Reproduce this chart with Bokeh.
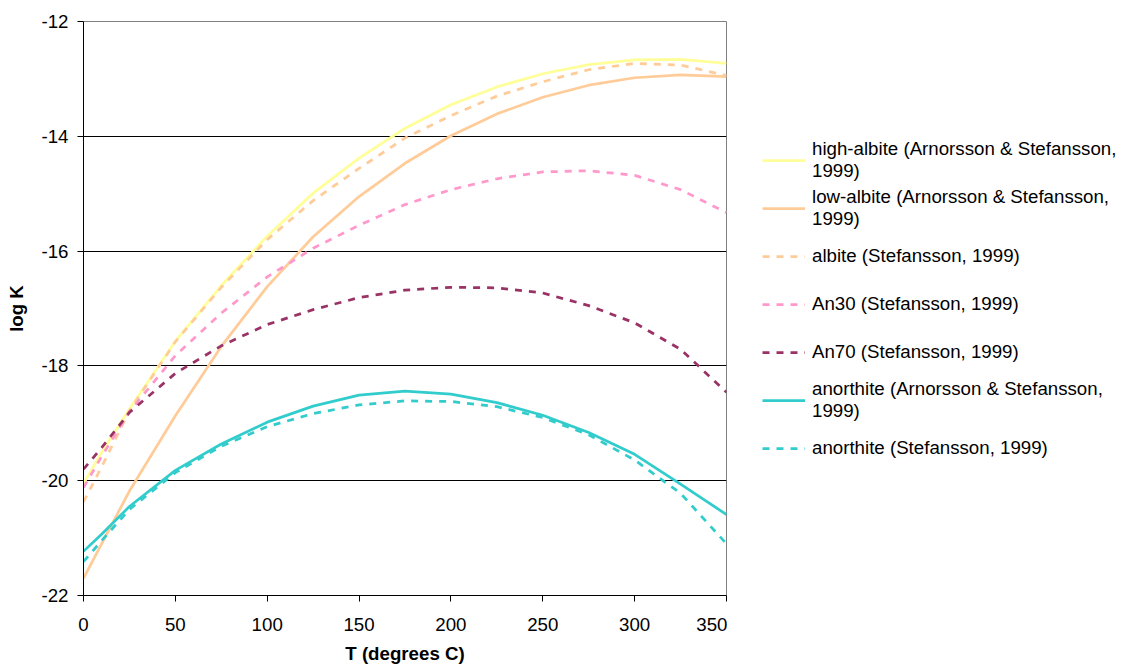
from bokeh.plotting import figure
from bokeh.layouts import row
from bokeh.models import Legend, LegendItem, FixedTicker, PrintfTickFormatter
from bokeh.embed import file_html
from bokeh.resources import INLINE

# Temperature (degrees C)
T = [0, 10, 25, 50, 75, 100, 125, 150, 175, 200, 225, 250, 275, 300, 325, 350]

# log K series
high_albite_AS = [-20.05, -19.50, -18.75, -17.57, -16.60, -15.74, -14.99, -14.38,
                  -13.86, -13.45, -13.14, -12.91, -12.75, -12.67, -12.66, -12.73]
low_albite_AS = [-21.70, -21.09, -20.18, -18.87, -17.66, -16.62, -15.75, -15.05,
                 -14.47, -13.99, -13.61, -13.32, -13.11, -12.98, -12.93, -12.96]
albite_S = [-20.37, -19.75, -18.78, -17.58, -16.63, -15.80, -15.12, -14.56,
            -14.03, -13.64, -13.30, -13.05, -12.84, -12.73, -12.76, -12.94]
An30_S = [-20.12, -19.57, -18.80, -17.82, -17.08, -16.45, -15.95, -15.55,
          -15.19, -14.93, -14.74, -14.62, -14.60, -14.68, -14.93, -15.33]
An70_S = [-19.80, -19.42, -18.81, -18.13, -17.65, -17.28, -17.02, -16.81,
          -16.68, -16.63, -16.64, -16.73, -16.95, -17.25, -17.71, -18.46]
anorthite_AS = [-21.23, -20.93, -20.45, -19.82, -19.36, -18.98, -18.70, -18.51,
                -18.44, -18.49, -18.64, -18.86, -19.16, -19.54, -20.06, -20.59]
anorthite_S = [-21.41, -21.04, -20.50, -19.86, -19.40, -19.06, -18.83, -18.68,
               -18.61, -18.62, -18.71, -18.90, -19.20, -19.64, -20.22, -21.10]

x_ticks = [0, 50, 100, 150, 200, 250, 300, 350]
y_ticks = [-22, -20, -18, -16, -14, -12]
grid_ticks = [-20, -18, -16, -14]

labels = [
    "high-albite (Arnorsson & Stefansson,\n1999)",
    "low-albite (Arnorsson & Stefansson,\n1999)",
    "albite (Stefansson, 1999)",
    "An30 (Stefansson, 1999)",
    "An70 (Stefansson, 1999)",
    "anorthite (Arnorsson & Stefansson,\n1999)",
    "anorthite (Stefansson, 1999)",
]
values = [high_albite_AS, low_albite_AS, albite_S, An30_S, An70_S, anorthite_AS, anorthite_S]
colors = ["#FFFF99", "#FFCC99", "#FFCC99", "#FF99CC", "#993366", "#33CCCC", "#33CCCC"]
dashes = ["solid", "solid", "7 7", "7 7", "7 7", "solid", "7 7"]

FONT = "Liberation Sans"
FS = "18.7px"
LW = 2.75

p = figure(width=727, height=666, output_backend="svg", toolbar_location=None,
           x_range=(0, 350), y_range=(-22, -12),
           min_border_left=83, min_border_right=1, min_border_top=21, min_border_bottom=69)
p.background_fill_color = "white"
p.border_fill_color = "white"
p.outline_line_color = "#808080"
p.outline_line_width = 1

p.xgrid.visible = False
p.ygrid.ticker = FixedTicker(ticks=grid_ticks)
p.ygrid.grid_line_color = "black"
p.ygrid.grid_line_width = 1

for ax in (p.xaxis[0], p.yaxis[0]):
    ax.axis_line_color = "black"
    ax.axis_line_width = 1
    ax.major_tick_line_color = "black"
    ax.major_tick_out = 6
    ax.major_tick_in = 0
    ax.minor_tick_out = 0
    ax.minor_tick_in = 0
    ax.major_label_text_font = FONT
    ax.major_label_text_font_size = FS
    ax.major_label_text_color = "black"
    ax.axis_label_text_font = FONT
    ax.axis_label_text_font_size = FS
    ax.axis_label_text_font_style = "bold"
    ax.axis_label_text_color = "black"
    ax.formatter = PrintfTickFormatter(format="%d")

p.xaxis.ticker = FixedTicker(ticks=x_ticks)
p.yaxis.ticker = FixedTicker(ticks=y_ticks)
p.xaxis.axis_label = "T (degrees C)"
p.yaxis.axis_label = "log K"
p.xaxis.major_label_standoff = 16
p.yaxis.major_label_standoff = 9
p.xaxis.axis_label_standoff = 9
p.yaxis.axis_label_standoff = 11

for ys, col, dash in zip(values, colors, dashes):
    p.line(T, ys, line_color=col, line_width=LW, line_dash=dash)

# legend panel to the right of the plot area; its series lie outside its own ranges,
# so only the legend entries show
lg = figure(width=394, height=666, output_backend="svg", toolbar_location=None,
            x_range=(0, 1), y_range=(0, 1),
            x_axis_location=None, y_axis_location=None,
            min_border_left=0, min_border_right=0, min_border_top=0, min_border_bottom=0)
lg.outline_line_color = None
lg.background_fill_color = "white"
lg.border_fill_color = "white"
lg.grid.visible = False

items = []
for lab, ys, col, dash in zip(labels, values, colors, dashes):
    r = lg.line(T, ys, line_color=col, line_width=LW, line_dash=dash)
    items.append(LegendItem(label=lab, renderers=[r]))

legend = Legend(items=items, location=(35, 123))
legend.border_line_color = None
legend.background_fill_alpha = 0
legend.padding = 0
legend.margin = 0
legend.spacing = 0
legend.label_height = 48
legend.glyph_width = 43
legend.glyph_height = 20
legend.label_standoff = 7
legend.label_text_font = FONT
legend.label_text_font_size = FS
legend.label_text_color = "black"
legend.label_text_line_height = 1.18
lg.add_layout(legend)

layout = row(p, lg)
open("out.html", "w").write(file_html(layout, INLINE))
